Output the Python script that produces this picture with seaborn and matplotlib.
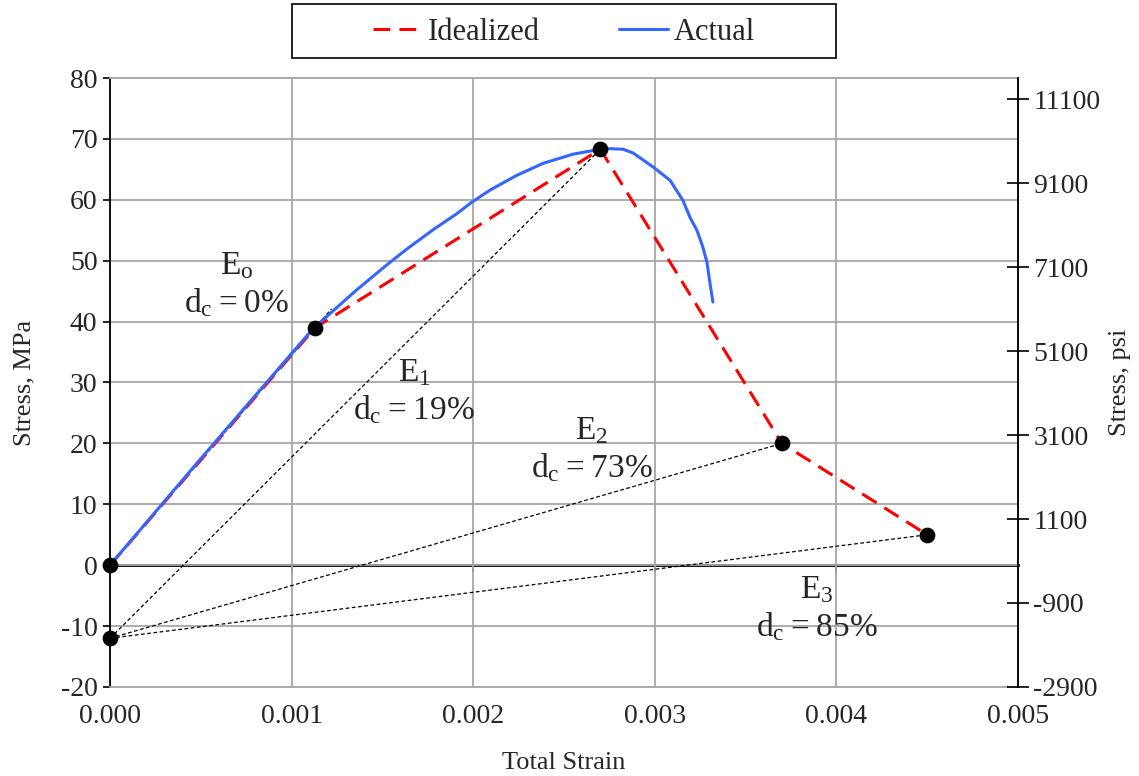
import numpy as np
import matplotlib
matplotlib.use('Agg')
import matplotlib.pyplot as plt
from matplotlib.patches import Rectangle
import seaborn as sns

# idealized curve (strain, MPa)
ideal_strain = [0.0, 0.00113, 0.0027, 0.0037, 0.0045]
ideal_stress = [0.0, 39.0, 68.3, 20.0, 5.0]

# measured curve
actual_strain = [0.0, 0.0005, 0.00112, 0.001211, 0.001358, 0.001524, 0.001634, 0.00178,
                 0.001909, 0.001992, 0.002093, 0.002239, 0.002386, 0.002551, 0.002643,
                 0.002698, 0.002753, 0.002825, 0.00288, 0.00299, 0.003084, 0.003155,
                 0.003194, 0.003232, 0.003265, 0.003287, 0.003287, 0.003304, 0.00332]
actual_stress = [0.0, 17.5, 38.9, 41.3, 45.2, 49.3, 51.9, 55.1,
                 57.7, 59.6, 61.6, 64.0, 66.0, 67.5, 68.0,
                 68.3, 68.4, 68.3, 67.7, 65.4, 63.2, 59.9,
                 57.1, 55.0, 52.2, 50.6, 48.9, 46.3, 43.2]

# secant lines
e0_strain = [0.0, 0.00122]
e0_stress = [0.0, 42.1]
pivot_strain = 0.0
pivot_stress = -12.0
secant_strain = [0.0027, 0.0037, 0.0045]
secant_stress = [68.3, 20.0, 5.0]

# black dots
dot_strain = [0.0, 0.00113, 0.0027, 0.0037, 0.0045, 0.0]
dot_stress = [0.0, 39.0, 68.3, 20.0, 5.0, -12.0]

# modulus labels
lab_sub = ['o', '1', '2', '3']
lab_dc = ['0', '19', '73', '85']
lab_x = [0.000699, 0.001674, 0.002654, 0.003893]
lab_y = [46.0, 28.4, 18.9, -7.1]

x_ticks = [0.0, 0.001, 0.002, 0.003, 0.004, 0.005]
y_ticks = list(range(-20, 81, 10))
psi_ticks = list(range(-2900, 11101, 2000))
MPA_TO_PSI = 145.038

sns.set_theme(style='ticks')
plt.rcParams['font.family'] = ['Liberation Serif', 'DejaVu Serif']
plt.rcParams['mathtext.fontset'] = 'custom'
plt.rcParams['mathtext.rm'] = 'Liberation Serif'
plt.rcParams['axes.unicode_minus'] = False

fig = plt.figure(figsize=(11.39, 7.76), dpi=100)
ax = fig.add_axes([110/1139, 1-687/776, 908/1139, 609/776])

grid_c = '#A6A6A6'
ax.set_xlim(0, 0.005)
ax.set_ylim(-20, 80)
ax.set_xticks(x_ticks)
ax.set_xticklabels(['%.3f' % v for v in x_ticks])
ax.set_yticks(y_ticks)
ax.grid(True, color=grid_c, lw=1.3)
ax.set_axisbelow(True)
for s in ['top', 'bottom', 'right']:
    ax.spines[s].set_color(grid_c)
    ax.spines[s].set_linewidth(1.3)
ax.spines['left'].set_color('black')
ax.spines['left'].set_linewidth(1.3)
ax.tick_params(axis='x', length=0, pad=12, labelsize=20)
ax.tick_params(axis='y', direction='out', length=5, width=1.2, color='black', pad=4, labelsize=20)

# x axis line crosses at zero stress
sec = ax.secondary_xaxis(20/100)
sec.set_xticks(x_ticks)
sec.set_xticklabels([])
sec.tick_params(direction='out', length=5, width=1.2, color='black')
sec.spines['bottom'].set_color('black')
sec.spines['bottom'].set_linewidth(2)

# secant lines
dot_kw = dict(color='black', lw=0.9, ls=(0, (3, 2)), zorder=2)
ax.plot(e0_strain, e0_stress, **dot_kw)
for xs, ys in zip(secant_strain, secant_stress):
    ax.plot([pivot_strain, xs], [pivot_stress, ys], **dot_kw)

sns.lineplot(x=ideal_strain, y=ideal_stress, ax=ax, color='#FF0000', lw=2.2,
             linestyle=(0, (5.5, 3)), sort=False, label='Idealized', zorder=3)
sns.lineplot(x=actual_strain, y=actual_stress, ax=ax, color='#3366FF', lw=2.2,
             sort=False, label='Actual', zorder=4)
sns.scatterplot(x=dot_strain, y=dot_stress, ax=ax, color='black', s=110,
                edgecolor='black', zorder=5, clip_on=False)

for sub, dc, xx, yy in zip(lab_sub, lab_dc, lab_x, lab_y):
    ax.text(xx, yy, r'$\mathregular{E_{%s}}$' % sub + '\n' + r'$\mathregular{d_c = %s\%%}$' % dc,
            ha='center', va='center', multialignment='center', fontsize=24, zorder=6)

ax.set_xlabel('Total Strain', fontsize=19, labelpad=17)
ax.set_ylabel('Stress, MPa', fontsize=19, labelpad=18)

ax2 = ax.twinx()
ax2.set_ylim(-20*MPA_TO_PSI, 80*MPA_TO_PSI)
ax2.set_yticks(psi_ticks)
for s in ['top', 'bottom', 'left']:
    ax2.spines[s].set_visible(False)
ax2.spines['right'].set_color('black')
ax2.spines['right'].set_linewidth(1.3)
ax2.tick_params(axis='y', direction='inout', length=16, width=1.2, color='black', pad=3, labelsize=20)
ax2.set_ylabel('Stress, psi', fontsize=19, labelpad=6)

handles, labels = ax.get_legend_handles_labels()
ax.get_legend().remove()
fig.legend(handles, labels, loc='center', bbox_to_anchor=(564/1139, 1-32/776), ncol=2,
           frameon=False, fontsize=22, handlelength=1.6, columnspacing=2.6, handletextpad=0.2)
fig.patches.append(Rectangle((292/1139, 1-58/776), 544/1139, 54/776, transform=fig.transFigure,
                             fill=False, ec='black', lw=1.2))

fig.savefig('out.png', dpi=100)
